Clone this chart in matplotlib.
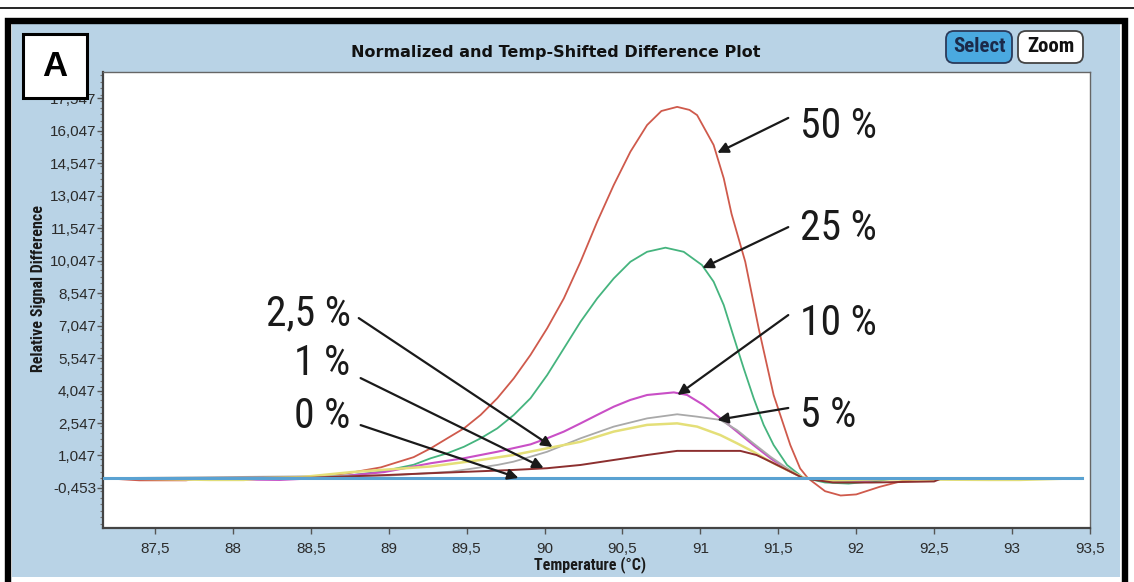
import matplotlib
matplotlib.use('Agg')
import matplotlib.pyplot as plt
from matplotlib import font_manager as fm
from matplotlib.patches import Rectangle, FancyBboxPatch
from matplotlib.lines import Line2D
from matplotlib.ticker import FixedLocator, MultipleLocator
import matplotlib.transforms as mtransforms


def first_font(names):
    # take the first family that is really installed
    for n in names:
        try:
            fm.findfont(fm.FontProperties(family=n), fallback_to_default=False)
            return n
        except ValueError:
            pass
    return 'DejaVu Sans'


NARROW = first_font(['Liberation Sans Narrow', 'Roboto Condensed', 'Liberation Sans'])
ARIAL = first_font(['Liberation Sans', 'DejaVu Sans'])

# ---- data (temperature in C, relative signal difference) ----
t_50 = [87.17, 87.40, 87.70, 87.80, 88.40, 88.60, 88.74, 88.95, 89.16, 89.27, 89.376, 89.483, 89.59,
        89.697, 89.803, 89.91, 90.017, 90.124, 90.231, 90.338, 90.444, 90.551, 90.658, 90.75, 90.851,
        90.93, 90.979, 91.085, 91.15, 91.20, 91.288, 91.374, 91.47, 91.577, 91.64, 91.69, 91.80,
        91.90, 92.00, 92.15, 92.30, 92.45, 93.45]
s_50 = [0.0, -0.1, -0.1, 0.0, 0.02, 0.12, 0.23, 0.5, 0.97, 1.38, 1.84, 2.30, 2.92,
        3.69, 4.61, 5.69, 6.92, 8.30, 9.99, 11.84, 13.53, 15.07, 16.30, 16.95, 17.14,
        17.0, 16.76, 15.38, 13.84, 12.2, 9.99, 6.92, 3.84, 1.53, 0.45, 0.0, -0.6,
        -0.8, -0.75, -0.4, -0.12, 0.0, 0.0]

t_25 = [87.17, 88.30, 88.50, 88.74, 88.95, 89.16, 89.27, 89.376, 89.483, 89.59, 89.697, 89.803,
        89.91, 90.017, 90.124, 90.231, 90.338, 90.444, 90.551, 90.658, 90.776, 90.893, 91.01, 91.085,
        91.15, 91.21, 91.278, 91.342, 91.406, 91.47, 91.556, 91.66, 91.80, 91.95, 92.15, 92.25, 93.45]
s_25 = [0.0, 0.0, 0.03, 0.12, 0.3, 0.62, 0.92, 1.15, 1.45, 1.84, 2.30, 2.92,
        3.69, 4.76, 5.99, 7.22, 8.30, 9.22, 9.99, 10.45, 10.64, 10.45, 9.84, 9.07,
        7.99, 6.61, 5.07, 3.69, 2.46, 1.53, 0.61, 0.02, -0.2, -0.25, -0.12, 0.0, 0.0]

t_10 = [87.17, 88.30, 88.60, 88.97, 89.27, 89.483, 89.697, 89.91, 90.017, 90.124, 90.231, 90.338,
        90.444, 90.55, 90.658, 90.83, 90.915, 91.02, 91.13, 91.235, 91.34, 91.45, 91.556, 91.66,
        91.85, 92.05, 92.20, 93.45]
s_10 = [0.0, -0.08, 0.02, 0.28, 0.69, 0.92, 1.22, 1.56, 1.84, 2.15, 2.53, 2.92,
        3.30, 3.61, 3.84, 3.96, 3.84, 3.38, 2.76, 2.15, 1.53, 0.92, 0.38, 0.02,
        -0.15, -0.15, 0.0, 0.0]

t_5 = [87.17, 89.00, 89.40, 89.697, 89.80, 89.91, 90.017, 90.231, 90.444, 90.658, 90.851, 90.979,
       91.128, 91.235, 91.34, 91.45, 91.556, 91.66, 91.85, 92.10, 92.20, 93.45]
s_5 = [0.0, 0.12, 0.3, 0.61, 0.76, 0.99, 1.22, 1.84, 2.38, 2.76, 2.95, 2.84,
       2.69, 2.22, 1.61, 0.99, 0.46, 0.02, -0.15, -0.1, 0.0, 0.0]

t_2_5 = [87.17, 87.85, 88.07, 88.20, 88.44, 88.76, 89.19, 89.27, 89.59, 89.80, 90.017, 90.231,
         90.444, 90.658, 90.851, 90.979, 91.128, 91.235, 91.34, 91.45, 91.556, 91.66, 91.85, 92.10,
         92.85, 93.05, 93.45]
s_2_5 = [0.0, -0.08, -0.08, 0.0, 0.05, 0.28, 0.5, 0.54, 0.84, 1.07, 1.38, 1.68,
         2.15, 2.46, 2.53, 2.38, 1.99, 1.61, 1.22, 0.76, 0.38, 0.02, -0.1, -0.05,
         -0.08, -0.08, 0.0]

t_1 = [87.17, 88.50, 88.97, 89.27, 89.80, 90.017, 90.231, 90.444, 90.658, 90.851, 91.256, 91.36,
       91.45, 91.556, 91.66, 91.85, 92.10, 92.50, 92.55, 93.45]
s_1 = [0.0, 0.02, 0.14, 0.23, 0.38, 0.46, 0.61, 0.84, 1.07, 1.26, 1.26, 1.07,
       0.76, 0.38, 0.0, -0.2, -0.2, -0.15, 0.0, 0.0]

t_0 = [87.17, 93.45]
s_0 = [0.0, 0.0]

series = [
    (t_50, s_50, '#cf5a4c', 1.3),
    (t_25, s_25, '#45b47e', 1.3),
    (t_10, s_10, '#c94fc6', 1.5),
    (t_5, s_5, '#a9a9a9', 1.3),
    (t_2_5, s_2_5, '#e4df78', 1.8),
    (t_1, s_1, '#8c2f2f', 1.4),
    (t_0, s_0, '#5aa2d2', 2.2),
]

# label text, text anchor (x, baseline y), arrow start, arrow tip
labels = ['50 %', '25 %', '10 %', '5 %', '2,5 %', '1 %', '0 %']
label_xy = [(91.64, 15.70), (91.64, 11.00), (91.64, 6.61), (91.64, 2.36),
            (88.756, 7.07), (88.756, 4.77), (88.756, 2.32)]
arrow_from = [(91.564, 16.63), (91.564, 11.59), (91.564, 7.53), (91.564, 3.24),
              (88.808, 7.39), (88.82, 4.62), (88.82, 2.45)]
arrow_to = [(91.109, 15.02), (91.013, 9.70), (90.853, 3.84), (91.109, 2.69),
            (90.051, 1.44), (89.994, 0.47), (89.833, 0.01)]

x_ticks = [87.5, 88, 88.5, 89, 89.5, 90, 90.5, 91, 91.5, 92, 92.5, 93, 93.5]
y_ticks = [-0.453, 1.047, 2.547, 4.047, 5.547, 7.047, 8.547, 10.047, 11.547, 13.047,
           14.547, 16.047, 17.547]

W, H = 1134, 582
fig = plt.figure(figsize=(W / 100, H / 100), dpi=100)
px = mtransforms.IdentityTransform()  # pixel coords, origin bottom-left

# light blue panel and black frame
fig.patches.append(Rectangle((12, H - 577), 1108, 553, transform=px,
                             facecolor='#b9d3e6', edgecolor='none', zorder=-2))
fig.lines.append(Line2D([8, 8, 1124.5, 1124.5], [-10, H - 20.5, H - 20.5, -10], transform=px,
                        color='black', lw=4.6, solid_joinstyle='miter', zorder=-1))
fig.lines.append(Line2D([0, W], [H - 8, H - 8], transform=px, color='black', lw=1.2, zorder=-1))

ax = fig.add_axes([103 / W, 1 - 528 / H, (1090 - 103) / W, (528 - 72) / H])
ax.set_facecolor('white')

for i, (t, s, c, lw) in enumerate(series):
    ax.plot(t, s, color=c, lw=lw, zorder=2 + i * 0.1, solid_joinstyle='round')

for txt, (tx, ty), a0, a1 in zip(labels, label_xy, arrow_from, arrow_to):
    ha = 'left' if tx > 90 else 'right'
    ax.text(tx, ty, txt, ha=ha, va='baseline', fontsize=30, family=NARROW, color='#1a1a1a', zorder=5)
    ax.annotate('', xy=a1, xytext=a0, zorder=6,
                arrowprops=dict(arrowstyle='-|>', color='#1a1a1a', lw=1.6,
                                mutation_scale=16, shrinkA=0, shrinkB=0))

ax.set_xlim(87.167, 93.5)
ax.set_ylim(-2.30, 18.75)
ax.xaxis.set_major_locator(FixedLocator(x_ticks))
ax.set_xticklabels([f'{v:g}'.replace('.', ',') for v in x_ticks])
ax.yaxis.set_major_locator(FixedLocator(y_ticks))
ax.set_yticklabels([f'{v:.3f}'.replace('.', ',') for v in y_ticks])
ax.yaxis.set_minor_locator(MultipleLocator(0.3))
ax.tick_params(axis='both', which='major', labelsize=11, colors='#555555', labelcolor='#2b2b2b',
               length=4, width=1)
ax.tick_params(axis='y', which='major', pad=1)
ax.tick_params(axis='x', which='major', pad=6)
ax.tick_params(axis='y', which='minor', length=2, width=0.8, color='#777777')
for lab in ax.get_xticklabels() + ax.get_yticklabels():
    lab.set_family(ARIAL)

for side in ['left', 'bottom']:
    ax.spines[side].set_color('#444444')
    ax.spines[side].set_linewidth(1.6)
for side in ['top', 'right']:
    ax.spines[side].set_color('#666666')
    ax.spines[side].set_linewidth(1.0)

ax.set_xlabel('Temperature (°C)', fontsize=11.5, fontweight='bold', family=NARROW, color='#1a1a1a')
ax.xaxis.set_label_coords(0.4934, -0.062)
ax.set_ylabel('Relative Signal Difference', fontsize=11.5, fontweight='bold', family=NARROW,
              color='#1a1a1a')
ax.yaxis.set_label_coords(-0.058, 0.526)

fig.text(556 / W, 1 - 52 / H, 'Normalized and Temp-Shifted Difference Plot', ha='center',
         va='center', fontsize=11.5, fontweight='bold', color='#111111')

# panel letter box
fig.patches.append(Rectangle((23, H - 98), 64, 64, transform=px, facecolor='white',
                             edgecolor='black', lw=2.2, zorder=5))
fig.text(55 / W, 1 - 67 / H, 'A', ha='center', va='center', fontsize=25, fontweight='bold',
         family=ARIAL, zorder=6)

# Select / Zoom buttons
fig.patches.append(FancyBboxPatch((946, H - 63), 66, 32, transform=px,
                                  boxstyle='round,pad=0,rounding_size=8',
                                  facecolor='#4aa9e0', edgecolor='#2a3a5a', lw=1.3, zorder=5))
fig.patches.append(FancyBboxPatch((1018, H - 63), 65, 32, transform=px,
                                  boxstyle='round,pad=0,rounding_size=8',
                                  facecolor='white', edgecolor='#444444', lw=1.3, zorder=5))
fig.text(979 / W, 1 - 47 / H, 'Select', ha='center', va='center', fontsize=15, fontweight='bold',
         family=NARROW, color='#1b2a4a', zorder=6)
fig.text(1050.5 / W, 1 - 47 / H, 'Zoom', ha='center', va='center', fontsize=15, fontweight='bold',
         family=NARROW, color='#111111', zorder=6)

fig.savefig('out.png', dpi=100)
